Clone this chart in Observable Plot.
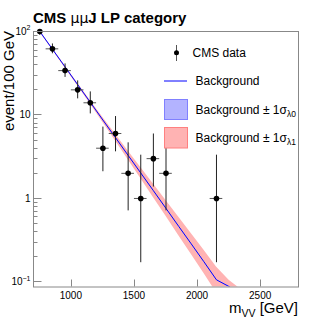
<!DOCTYPE html>
<html><head><meta charset="utf-8">
<script src="https://cdn.jsdelivr.net/npm/d3@7"></script>
<script src="https://cdn.jsdelivr.net/npm/@observablehq/plot@0.6"></script>
<style>body{margin:0;background:#fff} svg{display:block}</style>
</head><body><div id="chart"></div>
<script>
// ---- data ----
const dataX  = [750, 850, 950, 1050, 1150, 1250, 1350, 1450, 1550, 1650, 1750, 2150];
const dataN  = [100, 62, 34, 20, 14, 4, 6, 2, 1, 3, 2, 1];
const dataLo = [90.0, 54.1, 28.2, 15.6, 10.3, 2.09, 3.62, 0.71, 0.17, 1.37, 0.71, 0.17];
const dataHi = [111.0, 70.9, 40.9, 25.6, 18.9, 7.16, 9.58, 4.64, 3.30, 5.92, 4.64, 3.30];
const binHalfWidth = 50;

const bkgX   = [750, 850, 950, 1050, 1150, 1250, 1350, 1450, 1550, 1650, 1750, 1850, 1950, 2050, 2150, 2250, 2350];
const bkgY   = [100, 61.4, 37.7, 23.1, 14.2, 8.7, 5.35, 3.28, 2.02, 1.24, 0.76, 0.465, 0.286, 0.175, 0.106, 0.088, 0.07];
const bandL1Hi = [101.9, 62.8, 38.8, 24.0, 14.9, 9.32, 5.87, 3.70, 2.35, 1.49, 0.946, 0.599, 0.381, 0.242, 0.151, 0.105, 0.08];
const bandL1Lo = [98.2, 60.0, 36.6, 22.2, 13.5, 8.12, 4.88, 2.91, 1.74, 1.03, 0.611, 0.361, 0.214, 0.127, 0.0742, 0.06, 0.04];
const bandL0Hi = [100.6, 61.8, 37.9, 23.3, 14.3, 8.78, 5.40, 3.31, 2.04, 1.25, 0.768, 0.470, 0.289, 0.177, 0.107, 0.089, 0.071];
const bandL0Lo = [99.4, 61.0, 37.5, 22.9, 14.1, 8.62, 5.30, 3.25, 2.00, 1.23, 0.752, 0.460, 0.283, 0.173, 0.105, 0.087, 0.069];

const xTicks = [1000, 1500, 2000, 2500];
const yTicks = [0.1, 1, 10, 100];
const yTickBase = ["10", "1", "10", "10"];
const yTickExp  = ["\u22121", "", "", "2"];
const yMinor = [0.2,0.3,0.4,0.5,0.6,0.7,0.8,0.9,2,3,4,5,6,7,8,9,20,30,40,50,60,70,80,90];

const titleMain = ["CMS ", "\u03bc\u03bc", "J LP category"];
const yTitle = "event/100 GeV";
const legendLabels = ["CMS data", "Background", "Background \u00b1 1\u03c3", "Background \u00b1 1\u03c3"];
const legendSubs = ["", "", "\u03bb0", "\u03bb1"];

// ---- tables ----
const pts = dataX.map((x, i) => ({x, n: dataN[i], lo: dataLo[i], hi: dataHi[i]}));
const band = bkgX.map((x, i) => ({x, c: bkgY[i], hi1: bandL1Hi[i], lo1: bandL1Lo[i], hi0: bandL0Hi[i], lo0: bandL0Lo[i]}));

const FONT = "'Liberation Sans', Arial, Helvetica, sans-serif";
const W = 332, H = 319;
const mL = 33, mR = 34, mT = 31, mB = 32.5;

const plot = Plot.plot({
  width: W, height: H,
  marginLeft: mL, marginRight: mR, marginTop: mT, marginBottom: mB,
  style: {fontFamily: FONT, background: "white", overflow: "visible"},
  x: {domain: [700, 2800], axis: null},
  y: {type: "log", domain: [0.087, 100], axis: null},
  marks: [
    Plot.areaY(band, {x: "x", y1: "lo1", y2: "hi1", fill: "#ffb3b3", clip: true}),
    Plot.areaY(band, {x: "x", y1: "lo0", y2: "hi0", fill: "#b3b3ff", clip: true}),
    Plot.line(band, {x: "x", y: "c", stroke: "#0000ff", strokeWidth: 1, clip: true}),
    Plot.ruleX(pts, {x: "x", y1: "lo", y2: "hi", stroke: "#222", strokeWidth: 1, clip: true}),
    Plot.ruleY(pts, {y: "n", x1: d => d.x - binHalfWidth, x2: d => d.x + binHalfWidth, stroke: "#555", strokeWidth: 1, clip: true}),
    Plot.dot(pts, {x: "x", y: "n", r: 2.8, fill: "black", stroke: null}),
    Plot.frame({stroke: "#888", strokeWidth: 1})
  ]
});

document.getElementById("chart").appendChild(plot);
const svg = d3.select(plot);
const sx = plot.scale("x"), sy = plot.scale("y");
const left = mL + 0.5, bottom = H - mB;

// y ticks
const g = svg.append("g").attr("stroke", "#888").attr("stroke-width", 1);
yTicks.forEach(v => {
  const y = Math.round(sy.apply(v)) + 0.5;
  g.append("line").attr("x1", left).attr("x2", left + 8).attr("y1", y).attr("y2", y);
});
yMinor.forEach(v => {
  const y = Math.round(sy.apply(v)) + 0.5;
  g.append("line").attr("x1", left).attr("x2", left + 4).attr("y1", y).attr("y2", y);
});
xTicks.forEach(v => {
  const x = Math.round(sx.apply(v)) + 0.5;
  g.append("line").attr("x1", x).attr("x2", x).attr("y1", bottom).attr("y2", bottom - 7);
});

// tick labels
yTicks.forEach((v, i) => {
  const y = sy.apply(v);
  const t = svg.append("text").attr("x", 30.5).attr("y", y + 3.6)
    .attr("text-anchor", "end").attr("font-family", FONT).attr("font-size", 10).attr("fill", "black");
  t.append("tspan").text(yTickBase[i]);
  if (yTickExp[i]) t.append("tspan").attr("dy", -4.5).attr("font-size", 7).text(yTickExp[i]);
});
xTicks.forEach(v => {
  svg.append("text").attr("x", sx.apply(v)).attr("y", 298.5).attr("text-anchor", "middle")
    .attr("font-family", FONT).attr("font-size", 10).attr("fill", "black").text(String(v));
});

// title
const tt = svg.append("text").attr("x", 33).attr("y", 23.3).attr("text-anchor", "start").attr("font-family", FONT)
  .attr("font-size", 15).attr("font-weight", "bold").attr("fill", "black");
tt.append("tspan").text(titleMain[0]);
tt.append("tspan").attr("font-weight", "normal").attr("font-family", "'DejaVu Sans', sans-serif").attr("font-size", 14).text(titleMain[1]);
tt.append("tspan").text(titleMain[2]);

// y title
svg.append("text").attr("transform", "translate(13.5,31) rotate(-90)").attr("text-anchor", "end")
  .attr("font-family", FONT).attr("font-size", 15).attr("fill", "black").text(yTitle);

// x title
const xt = svg.append("text").attr("x", 298).attr("y", 313).attr("text-anchor", "end")
  .attr("font-family", FONT).attr("font-size", 15).attr("fill", "black");
xt.append("tspan").text("m");
xt.append("tspan").attr("dy", 3.5).attr("font-size", 10.5).text("VV");
xt.append("tspan").attr("dy", -3.5).text(" [GeV]");

// legend
const lg = svg.append("g").attr("font-family", FONT).attr("font-size", 12).attr("fill", "black").attr("text-anchor", "start");
lg.append("line").attr("x1", 176.5).attr("x2", 176.5).attr("y1", 45).attr("y2", 61).attr("stroke", "#555");
lg.append("circle").attr("cx", 176.5).attr("cy", 52.7).attr("r", 2.5).attr("fill", "black");
lg.append("line").attr("x1", 164).attr("x2", 187).attr("y1", 81).attr("y2", 81).attr("stroke", "#0000ff").attr("stroke-width", 1);
lg.append("rect").attr("x", 164.5).attr("y", 99.5).attr("width", 23).attr("height", 20)
  .attr("fill", "#b3b3ff").attr("stroke", "#8080ff");
lg.append("rect").attr("x", 164.5).attr("y", 127.5).attr("width", 23).attr("height", 20.5)
  .attr("fill", "#ffb3b3").attr("stroke", "#ff8080");
const ly = [57, 85, 113.5, 141.5];
const lx = [192.5, 195.5, 195.5, 195.5];
legendLabels.forEach((s, i) => {
  const t = lg.append("text").attr("x", lx[i]).attr("y", ly[i]).attr("text-anchor", "start");
  t.append("tspan").text(s);
  if (legendSubs[i]) t.append("tspan").attr("dy", 3).attr("font-size", 8.5).text(legendSubs[i]);
});
</script>
</body></html>
